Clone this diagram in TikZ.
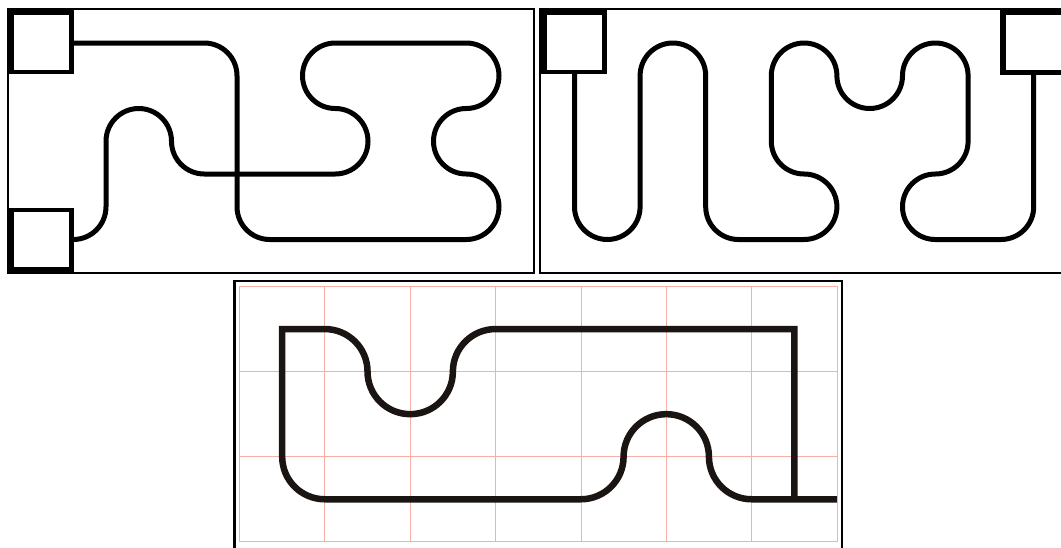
\documentclass[tikz,border=0pt]{standalone}
\definecolor{tracedark}{RGB}{26,20,18}
\definecolor{gridpink}{RGB}{247,175,165}
\begin{document}
\begin{tikzpicture}[x=1pt,y=-1pt,
  frame/.style={draw=black, line width=2pt},
  trace/.style={draw=black, line width=5pt},
  fattrace/.style={draw=tracedark, line width=6.5pt, line join=miter},
  gridline/.style={draw=gridpink, line width=0.8pt}]
\useasboundingbox (0,0) rectangle (1061,547);
\clip (0,0) rectangle (1061,547);
% frames
\draw[frame] (7.5,9) rectangle (534,273);
\draw[frame] (540,9) rectangle (1070,273);
\draw[line width=2.5pt] (234.5,281) rectangle (842,560);
% panel 1 trace
\begin{scope}[xshift=106pt, yshift=-43pt, x=32.75pt, y=-32.75pt]
\draw[trace] (-0.98,0) -- (3,0) arc[start angle=-90,end angle=0,radius=1]
  -- (4,5) arc[start angle=180,end angle=90,radius=1]
  -- (11,6) arc[start angle=90,end angle=-90,radius=1]
  arc[start angle=90,end angle=270,radius=1]
  arc[start angle=90,end angle=-90,radius=1]
  -- (7,0) arc[start angle=270,end angle=90,radius=1]
  arc[start angle=-90,end angle=90,radius=1]
  -- (3,4) arc[start angle=90,end angle=180,radius=1]
  arc[start angle=0,end angle=-180,radius=1]
  -- (0,5) arc[start angle=0,end angle=90,radius=1];
\end{scope}
% panel 2 trace
\begin{scope}[xshift=574.5pt, yshift=-43pt, x=32.8pt, y=-32.75pt]
\draw[trace] (0,0.95) -- (0,5) arc[start angle=180,end angle=0,radius=1]
  -- (2,1) arc[start angle=180,end angle=360,radius=1]
  -- (4,5) arc[start angle=180,end angle=90,radius=1]
  -- (7,6) arc[start angle=90,end angle=-90,radius=1]
  arc[start angle=90,end angle=180,radius=1]
  -- (6,1) arc[start angle=180,end angle=360,radius=1]
  arc[start angle=180,end angle=0,radius=1]
  arc[start angle=180,end angle=360,radius=1]
  -- (12,3) arc[start angle=0,end angle=90,radius=1]
  arc[start angle=270,end angle=90,radius=1]
  -- (13,6) arc[start angle=90,end angle=0,radius=1]
  -- (14,0.98);
\end{scope}
% pads
\fill[black] (7,9) rectangle (74,74);
\fill[white] (14,15) rectangle (69,70);
\fill[black] (7,208) rectangle (74,272);
\fill[white] (14,212) rectangle (69,267);
\fill[black] (540,9) rectangle (607,74);
\fill[white] (547,15) rectangle (602,70);
\fill[black] (1000,10) rectangle (1070,75);
\fill[white] (1006,15) rectangle (1070,70);
% panel 3
\begin{scope}[xshift=239.5pt, yshift=-286.5pt, x=42.675pt, y=-42.55pt]
\draw[gridline] (0,0) rectangle (14,6);
\foreach \i in {2,4,...,12} \draw[gridline] (\i,0) -- (\i,6);
\foreach \j in {2,4} \draw[gridline] (0,\j) -- (14,\j);
\draw[fattrace] (13,5) -- (13,1) -- (6,1) arc[start angle=270,end angle=180,radius=1]
  arc[start angle=0,end angle=180,radius=1]
  arc[start angle=0,end angle=-90,radius=1]
  -- (1,1) -- (1,4) arc[start angle=180,end angle=90,radius=1]
  -- (8,5) arc[start angle=90,end angle=0,radius=1]
  arc[start angle=180,end angle=360,radius=1]
  arc[start angle=180,end angle=90,radius=1]
  -- (14,5);
\end{scope}
\end{tikzpicture}
\end{document}
